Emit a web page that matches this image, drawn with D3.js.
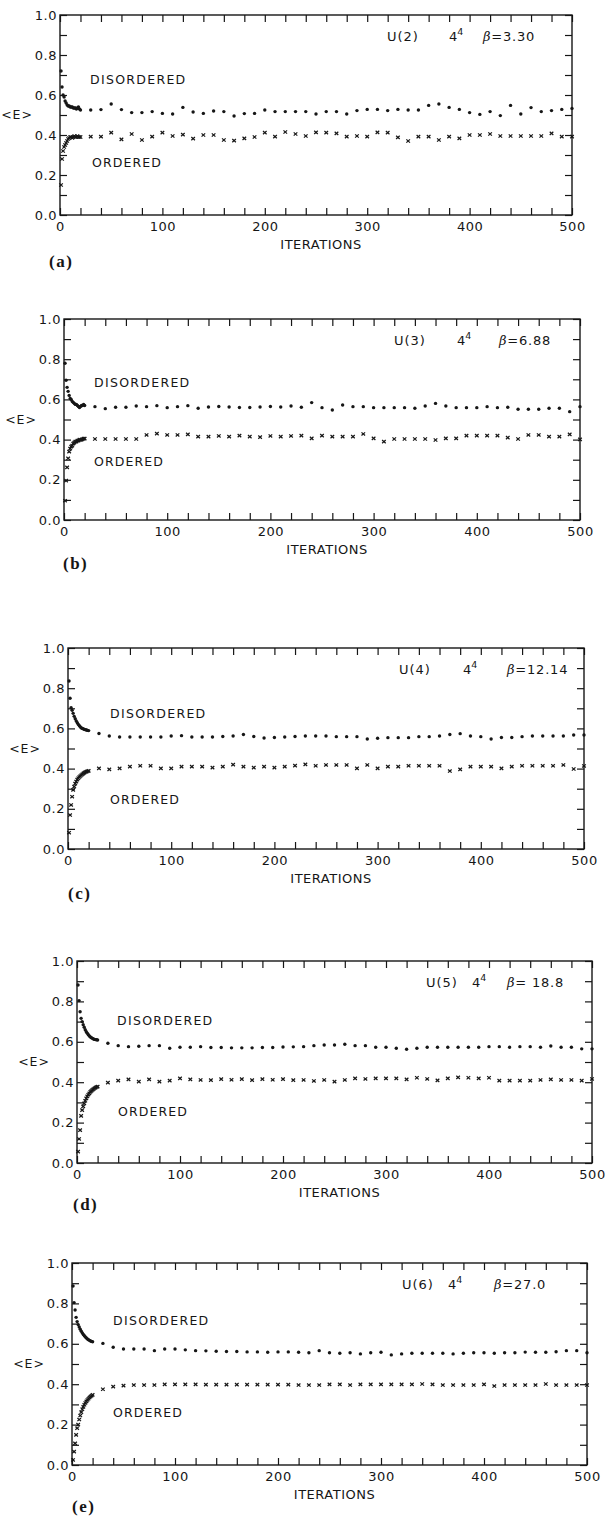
<!DOCTYPE html>
<html>
<head>
<meta charset="utf-8">
<script src="https://cdn.jsdelivr.net/npm/d3@7"></script>
<style>
  body { margin: 0; background: #fff; }
  svg { display: block; }
</style>
</head>
<body>
<svg id="chart" width="605" height="1516"></svg>
<script>
// iteration numbers at which <E> was recorded
const itersEarly = [1, 2, 3, 4, 5, 6, 7, 8, 9, 10, 11, 12, 13, 14, 15, 16, 17, 18, 19, 20];
const itersLate = [30, 40, 50, 60, 70, 80, 90, 100, 110, 120, 130, 140, 150, 160, 170, 180, 190, 200,
  210, 220, 230, 240, 250, 260, 270, 280, 290, 300, 310, 320, 330, 340, 350, 360, 370, 380, 390, 400,
  410, 420, 430, 440, 450, 460, 470, 480, 490, 500];

const xTicks = [0, 20, 40, 60, 80, 100, 120, 140, 160, 180, 200, 220, 240, 260, 280, 300, 320, 340,
  360, 380, 400, 420, 440, 460, 480, 500];
const yTicks = [0, 0.1, 0.2, 0.3, 0.4, 0.5, 0.6, 0.7, 0.8, 0.9, 1.0];

const groups = ["U(2)", "U(3)", "U(4)", "U(5)", "U(6)"];
const betas = ["=3.30", "=6.88", "=12.14", "= 18.8", "=27.0"];
const tags = ["(a)", "(b)", "(c)", "(d)", "(e)"];

// U(2), beta = 3.30
const disorderedA = [0.72, 0.64, 0.6, 0.59, 0.57, 0.56, 0.55, 0.545, 0.545, 0.54, 0.54, 0.54, 0.535, 0.535, 0.535, 0.53, 0.535, 0.54, 0.53, 0.525,
  0.525, 0.527, 0.555, 0.527, 0.512, 0.512, 0.517, 0.508, 0.505, 0.538, 0.515, 0.508, 0.52, 0.517, 0.495, 0.507, 0.508, 0.525, 0.517, 0.517, 0.517,
  0.517, 0.505, 0.517, 0.517, 0.505, 0.522, 0.528, 0.528, 0.522, 0.528, 0.525, 0.525, 0.548, 0.555, 0.538, 0.528, 0.512, 0.503, 0.517, 0.497, 0.548, 0.505, 0.537, 0.517, 0.522, 0.528, 0.533];
const orderedA = [0.15, 0.28, 0.32, 0.34, 0.35, 0.36, 0.37, 0.38, 0.385, 0.39, 0.39, 0.385, 0.39, 0.395, 0.39, 0.39, 0.395, 0.39, 0.39, 0.39,
  0.392, 0.392, 0.412, 0.378, 0.405, 0.375, 0.392, 0.412, 0.395, 0.402, 0.382, 0.4, 0.4, 0.375, 0.372, 0.383, 0.39, 0.412, 0.392, 0.415, 0.405,
  0.395, 0.413, 0.412, 0.408, 0.392, 0.395, 0.392, 0.413, 0.412, 0.388, 0.37, 0.392, 0.392, 0.375, 0.392, 0.383, 0.4, 0.4, 0.405, 0.395, 0.395, 0.395, 0.395, 0.395, 0.408, 0.392, 0.392];

// U(3), beta = 6.88
const disorderedB = [0.78, 0.695, 0.66, 0.64, 0.62, 0.605, 0.6, 0.59, 0.585, 0.58, 0.575, 0.575, 0.57, 0.565, 0.56, 0.565, 0.57, 0.57, 0.575, 0.57,
  0.564, 0.554, 0.561, 0.561, 0.567, 0.564, 0.569, 0.559, 0.564, 0.569, 0.556, 0.562, 0.565, 0.562, 0.56, 0.56, 0.562, 0.565, 0.562, 0.567,
  0.561, 0.584, 0.559, 0.547, 0.572, 0.564, 0.564, 0.559, 0.559, 0.559, 0.559, 0.556, 0.567, 0.58, 0.567, 0.559, 0.559, 0.559, 0.564, 0.559, 0.561, 0.551, 0.551, 0.551, 0.556, 0.556, 0.539, 0.564];
const orderedB = [0.096, 0.196, 0.262, 0.307, 0.34, 0.355, 0.365, 0.37, 0.38, 0.385, 0.39, 0.39, 0.395, 0.395, 0.4, 0.398, 0.4, 0.402, 0.405, 0.405,
  0.403, 0.403, 0.403, 0.403, 0.403, 0.423, 0.43, 0.423, 0.423, 0.426, 0.415, 0.415, 0.418, 0.415, 0.42, 0.415, 0.412, 0.418, 0.415, 0.418,
  0.42, 0.406, 0.42, 0.415, 0.415, 0.415, 0.428, 0.406, 0.39, 0.403, 0.403, 0.403, 0.403, 0.398, 0.406, 0.406, 0.42, 0.42, 0.42, 0.42, 0.41, 0.403, 0.423, 0.423, 0.415, 0.415, 0.426, 0.401];

// U(4), beta = 12.14
const disorderedC = [0.836, 0.75, 0.703, 0.69, 0.675, 0.66, 0.648, 0.637, 0.628, 0.62, 0.613, 0.607, 0.602, 0.6, 0.597, 0.595, 0.593, 0.592, 0.59, 0.589,
  0.575, 0.562, 0.557, 0.557, 0.557, 0.557, 0.557, 0.562, 0.564, 0.557, 0.557, 0.557, 0.56, 0.562, 0.57, 0.56, 0.552, 0.555, 0.557, 0.56,
  0.562, 0.562, 0.562, 0.559, 0.559, 0.559, 0.547, 0.551, 0.554, 0.554, 0.554, 0.559, 0.559, 0.562, 0.57, 0.574, 0.562, 0.559, 0.547, 0.555, 0.555, 0.559, 0.562, 0.562, 0.562, 0.562, 0.567, 0.567];
const orderedC = [0.081, 0.169, 0.219, 0.26, 0.294, 0.31, 0.325, 0.335, 0.345, 0.352, 0.358, 0.363, 0.368, 0.372, 0.376, 0.38, 0.383, 0.385, 0.387, 0.389,
  0.401, 0.396, 0.401, 0.41, 0.414, 0.414, 0.401, 0.401, 0.41, 0.41, 0.41, 0.405, 0.41, 0.42, 0.41, 0.405, 0.41, 0.405, 0.41, 0.415,
  0.421, 0.414, 0.418, 0.418, 0.418, 0.401, 0.418, 0.401, 0.41, 0.41, 0.414, 0.414, 0.414, 0.414, 0.388, 0.396, 0.41, 0.41, 0.41, 0.401, 0.41, 0.414, 0.414, 0.414, 0.414, 0.418, 0.398, 0.413];

// U(5), beta = 18.8
const disorderedD = [0.881, 0.804, 0.749, 0.716, 0.7, 0.685, 0.672, 0.66, 0.65, 0.642, 0.635, 0.629, 0.624, 0.62, 0.617, 0.614, 0.612, 0.611, 0.61, 0.609,
  0.593, 0.581, 0.576, 0.578, 0.581, 0.581, 0.568, 0.573, 0.573, 0.576, 0.572, 0.572, 0.57, 0.57, 0.57, 0.572, 0.572, 0.574, 0.575,
  0.576, 0.581, 0.584, 0.584, 0.588, 0.581, 0.581, 0.573, 0.573, 0.568, 0.563, 0.568, 0.573, 0.573, 0.573, 0.573, 0.573, 0.573, 0.576, 0.576, 0.573, 0.576, 0.576, 0.573, 0.579, 0.573, 0.573, 0.565, 0.565];
const orderedD = [0.056, 0.119, 0.163, 0.233, 0.262, 0.28, 0.295, 0.308, 0.32, 0.33, 0.338, 0.345, 0.352, 0.357, 0.362, 0.366, 0.37, 0.373, 0.376, 0.378,
  0.398, 0.408, 0.414, 0.403, 0.414, 0.403, 0.408, 0.419, 0.414, 0.411, 0.41, 0.415, 0.412, 0.415, 0.41, 0.415, 0.412, 0.415, 0.41,
  0.411, 0.406, 0.411, 0.403, 0.411, 0.419, 0.416, 0.419, 0.419, 0.419, 0.414, 0.422, 0.416, 0.409, 0.419, 0.424, 0.422, 0.419, 0.422, 0.408, 0.408, 0.408, 0.408, 0.411, 0.414, 0.411, 0.411, 0.408, 0.416];

// U(6), beta = 27.0
const disorderedE = [0.886, 0.804, 0.767, 0.731, 0.71, 0.695, 0.683, 0.672, 0.662, 0.654, 0.646, 0.64, 0.634, 0.629, 0.624, 0.62, 0.617, 0.614, 0.612, 0.61,
  0.602, 0.583, 0.574, 0.574, 0.574, 0.566, 0.574, 0.574, 0.57, 0.566, 0.565, 0.563, 0.562, 0.562, 0.56, 0.56, 0.558, 0.56, 0.56, 0.558,
  0.556, 0.566, 0.556, 0.553, 0.556, 0.55, 0.556, 0.558, 0.545, 0.55, 0.553, 0.553, 0.553, 0.553, 0.55, 0.553, 0.556, 0.556, 0.553, 0.556, 0.556, 0.559, 0.558, 0.558, 0.561, 0.566, 0.566, 0.556];
const orderedE = [0.025, 0.066, 0.107, 0.149, 0.182, 0.2, 0.225, 0.245, 0.262, 0.276, 0.288, 0.298, 0.307, 0.315, 0.322, 0.328, 0.334, 0.339, 0.343, 0.347,
  0.375, 0.388, 0.393, 0.396, 0.396, 0.396, 0.399, 0.399, 0.399, 0.399, 0.398, 0.398, 0.398, 0.398, 0.398, 0.398, 0.398, 0.398, 0.398,
  0.396, 0.396, 0.396, 0.399, 0.399, 0.396, 0.399, 0.399, 0.399, 0.399, 0.399, 0.399, 0.401, 0.399, 0.396, 0.396, 0.396, 0.396, 0.399, 0.391, 0.396, 0.396, 0.396, 0.396, 0.401, 0.396, 0.396, 0.396, 0.396];

const disordered = [disorderedA, disorderedB, disorderedC, disorderedD, disorderedE];
const ordered = [orderedA, orderedB, orderedC, orderedD, orderedE];

// where each panel sits on the page (the scanned figure is not perfectly aligned)
const layout = [
  { left: 60, right: 572, top: 15, bottom: 215, uX: 387, powX: 449, betaX: 483, disX: 30, disY: 69, ordX: 32, ordY: 152, tagX: 49, tagY: 52 },
  { left: 64, right: 580, top: 319, bottom: 520, uX: 394, powX: 457, betaX: 499, disX: 30, disY: 68, ordX: 30, ordY: 147, tagX: 63, tagY: 49 },
  { left: 68, right: 584, top: 648, bottom: 849, uX: 399, powX: 463, betaX: 507, disX: 42, disY: 70, ordX: 42, ordY: 156, tagX: 68, tagY: 50 },
  { left: 77, right: 592, top: 961, bottom: 1163, uX: 426, powX: 472, betaX: 507, disX: 40, disY: 64, ordX: 41, ordY: 155, tagX: 73, tagY: 47 },
  { left: 72, right: 587, top: 1263, bottom: 1465, uX: 402, powX: 448, betaX: 494, disX: 41, disY: 62, ordX: 41, ordY: 154, tagX: 72, tagY: 47 }
];

const ink = "#161616";
const sansFont = "DejaVu Sans, sans-serif";
const iters = itersEarly.concat(itersLate);

const svg = d3.select("#chart");

layout.forEach((p, i) => {
  const x = d3.scaleLinear().domain([0, 500]).range([p.left, p.right]);
  const y = d3.scaleLinear().domain([0, 1]).range([p.bottom, p.top]);
  const g = svg.append("g");

  // ticks on all four sides, pointing into the box
  const bottomAxis = d3.axisBottom(x).tickValues(xTicks).tickSize(-7).tickSizeOuter(0).tickPadding(7)
    .tickFormat(d => d % 100 === 0 ? d : "");
  const topAxis = d3.axisTop(x).tickValues(xTicks).tickSize(-7).tickSizeOuter(0).tickFormat("");
  const leftAxis = d3.axisLeft(y).tickValues(yTicks).tickSize(-7).tickSizeOuter(0).tickPadding(3)
    .tickFormat(d => Math.round(d * 10) % 2 === 0 ? d3.format(".1f")(d) : "");
  const rightAxis = d3.axisRight(y).tickValues(yTicks).tickSize(-7).tickSizeOuter(0).tickFormat("");

  g.append("g").attr("transform", `translate(0,${p.bottom})`).call(bottomAxis);
  g.append("g").attr("transform", `translate(0,${p.top})`).call(topAxis);
  g.append("g").attr("transform", `translate(${p.left},0)`).call(leftAxis);
  g.append("g").attr("transform", `translate(${p.right},0)`).call(rightAxis);

  g.selectAll(".domain").remove();
  g.selectAll(".tick line").attr("stroke", ink).attr("stroke-width", 1.2);
  g.selectAll(".tick text")
    .attr("fill", ink)
    .style("font-family", sansFont)
    .style("font-size", "13px")
    .style("letter-spacing", "0.5px");

  // frame
  g.append("rect")
    .attr("x", p.left).attr("y", p.top)
    .attr("width", p.right - p.left).attr("height", p.bottom - p.top)
    .attr("fill", "none").attr("stroke", ink).attr("stroke-width", 1.4);

  // disordered start: dots
  g.selectAll("circle.dis")
    .data(disordered[i])
    .join("circle")
    .attr("class", "dis")
    .attr("cx", (d, k) => x(iters[k]))
    .attr("cy", d => y(d))
    .attr("r", 1.7)
    .attr("fill", ink);

  // ordered start: small crosses
  g.selectAll("path.ord")
    .data(ordered[i])
    .join("path")
    .attr("class", "ord")
    .attr("transform", (d, k) => `translate(${x(iters[k])},${y(d)})`)
    .attr("d", "M-1.8,-1.6L1.8,1.6M1.8,-1.6L-1.8,1.6")
    .attr("stroke", ink)
    .attr("stroke-width", 1.25);

  // text labels
  const label = (tx, ty, txt, size, spacing) => g.append("text")
    .attr("x", tx).attr("y", ty)
    .attr("fill", ink)
    .style("font-family", sansFont)
    .style("font-size", size + "px")
    .style("letter-spacing", spacing + "px")
    .text(txt);

  label(p.left + p.disX, p.top + p.disY, "DISORDERED", 12.5, 1.3);
  label(p.left + p.ordX, p.top + p.ordY, "ORDERED", 12.5, 1.1);
  label(p.left - 27, y(0.5) + 4, "<E>", 12.5, 1).attr("text-anchor", "end");
  label((p.left + p.right) / 2 + 5, p.bottom + 34, "ITERATIONS", 13, 0.5).attr("text-anchor", "middle");

  label(p.uX, p.top + 26, groups[i], 13, 1);
  const pow = label(p.powX, p.top + 26, "4", 13, 0);
  pow.append("tspan").attr("dy", -6).style("font-size", "9.5px").text("4");
  const beta = label(p.betaX, p.top + 26, "", 13, 0.8);
  beta.append("tspan").style("font-style", "italic").style("font-family", "DejaVu Serif, serif").text("β");
  beta.append("tspan").text(betas[i]);

  g.append("text")
    .attr("x", p.tagX).attr("y", p.bottom + p.tagY)
    .attr("fill", ink)
    .style("font-family", "Liberation Serif, serif")
    .style("font-weight", "bold")
    .style("font-size", "17px")
    .style("letter-spacing", "1.5px")
    .text(tags[i]);
});
</script>
</body>
</html>
